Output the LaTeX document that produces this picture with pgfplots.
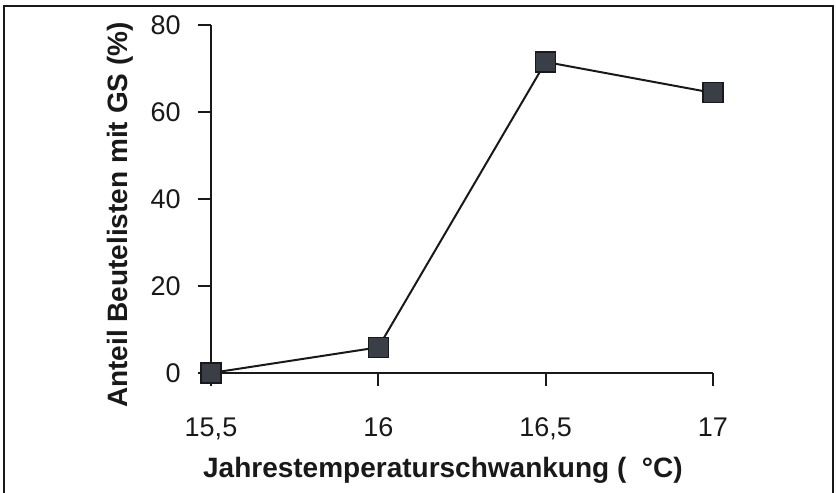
\documentclass[border=0pt]{standalone}
\usepackage{fontspec}
\setmainfont{Liberation Sans}
\usepackage{pgfplots}
\pgfplotsset{compat=1.18}
\definecolor{markfill}{RGB}{58,62,70}
\definecolor{ink}{RGB}{25,25,25}
\begin{document}
\begin{tikzpicture}
\useasboundingbox (0,0) rectangle (418pt,246.5pt);
\draw[ink, line width=1pt] (2pt,0) -- (2pt,243.5pt) -- (416.5pt,243.5pt) -- (416.5pt,0);
\begin{axis}[
	at={(105.5pt,60pt)}, anchor=south west,
	scale only axis, width=251pt, height=174pt,
	xmin=15.5, xmax=17, ymin=0, ymax=80,
	axis x line*=bottom, axis y line*=left,
	axis line style={-, ink, line width=1pt},
	tick align=outside, major tick length=6.5pt,
	tick style={ink, line width=1pt},
	xtick={15.5,16,16.5,17}, xticklabels={{15,5},16,{16,5},17},
	ytick={0,20,40,60,80}, yticklabels={0,20,40,60,80},
	ticklabel style={font=\fontsize{13.5}{15}\selectfont, text=ink},
	xticklabel style={anchor=base, yshift=-25pt},
	yticklabel style={anchor=east, inner sep=0pt, xshift=-8.5pt},
	clip=false,
	xlabel={Jahrestemperaturschwankung ( \ °C)},
	ylabel={Anteil Beutelisten mit GS (\%)},
	label style={font=\bfseries\fontsize{14}{16}\selectfont, text=ink},
	xlabel style={at={(axis description cs:0.462,-0.299)}, anchor=base},
	ylabel style={at={(axis description cs:-0.167,0.454)}, anchor=base},
]
\addplot[ink, line width=1pt, mark=square*, mark size=5pt,
	mark options={fill=markfill, draw=ink, line width=0.6pt}]
	coordinates {(15.5,0)(16,5.9)(16.5,71.5)(17,64.4)};
\end{axis}
\end{tikzpicture}
\end{document}
